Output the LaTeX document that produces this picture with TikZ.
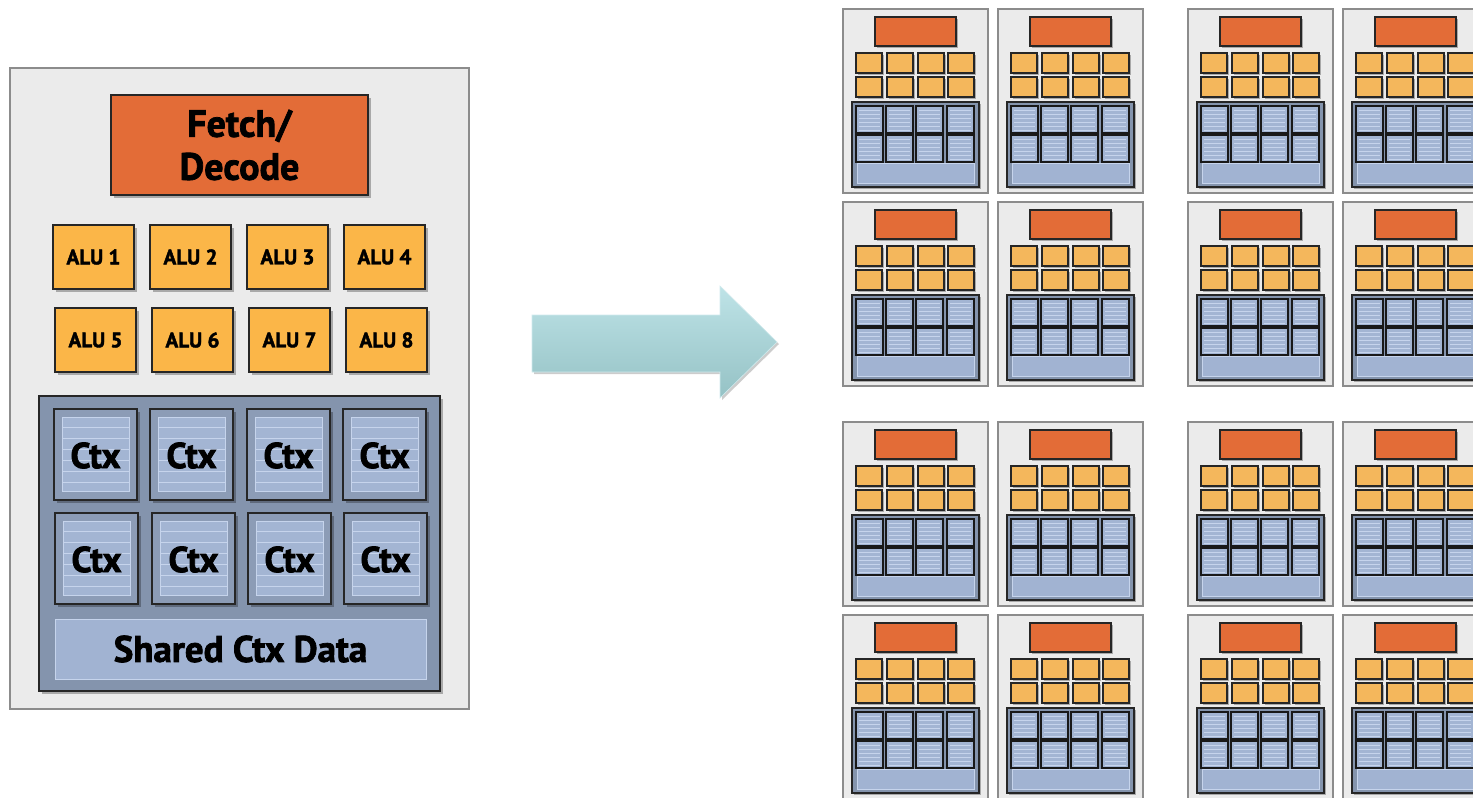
\documentclass[tikz,border=0pt]{standalone}
\usepackage{fontspec}
\setmainfont{PT Sans}[BoldFeatures={FakeBold=2}]
\usetikzlibrary{shadows}
\definecolor{bggray}{HTML}{EBEBEB}
\definecolor{coreedge}{HTML}{8C8C8C}
\definecolor{fetchor}{HTML}{E36C37}
\definecolor{alucol}{HTML}{FBB648}
\definecolor{alusm}{HTML}{F4B75C}
\definecolor{ctxbox}{HTML}{8494AD}
\definecolor{ctxcell}{HTML}{8C9CB6}
\definecolor{ctxin}{HTML}{A3B5D3}
\definecolor{ctxline}{HTML}{C6D4EC}
\definecolor{shared}{HTML}{A1B3D2}
\definecolor{arrowtop}{HTML}{BEE3E7}
\definecolor{arrowbot}{HTML}{95C2C5}
\tikzset{
  box/.style={anchor=north west, inner sep=0pt, outer sep=0pt},
  corebox/.style={box, draw=coreedge, fill=bggray, line width=1.2pt},
  bshadow/.style={drop shadow={shadow xshift=3pt, shadow yshift=-3pt, opacity=0.28, fill=black}},
  sshadow/.style={drop shadow={shadow xshift=1.6pt, shadow yshift=-1.6pt, opacity=0.28, fill=black}},
  fetchbox/.style={box, draw=black!85, fill=fetchor, line width=1.6pt, bshadow},
  alubox/.style={box, draw=black!85, fill=alucol, line width=1.6pt, bshadow, minimum width=81, minimum height=64},
  ctxarea/.style={box, draw=black!85, fill=ctxbox, line width=1.6pt, bshadow},
  ctxcellbox/.style={box, draw=black!85, fill=ctxcell, line width=1.6pt, bshadow, minimum width=83, minimum height=91},
  sharedbox/.style={box, draw=ctxline, fill=shared, line width=1pt},
  sfetch/.style={box, draw=black!85, fill=fetchor, line width=1.3pt, sshadow, minimum width=81, minimum height=29},
  salu/.style={box, draw=black!85, fill=alusm, line width=1.3pt, sshadow, minimum width=26, minimum height=20},
  sctxarea/.style={box, draw=black!85, fill=ctxbox, line width=1.4pt, sshadow, minimum width=127, minimum height=85},
  sctxcell/.style={box, draw=black!90, fill=ctxin, line width=1.6pt, minimum width=27, minimum height=27},
  sshared/.style={box, draw=ctxline, fill=shared, line width=0.8pt, minimum width=117, minimum height=20},
  labeltext/.style={font=\bfseries, text=black}
}
\newcommand\bigctx[3]{% name, x, y
  \node[ctxcellbox] (#1) at (#2,#3) {};
  \begin{scope}[shift={(#2,#3)}]
    \fill[ctxin] (8,8) rectangle (75,82);
    \foreach \k in {18,29,40,51,62,73} {\draw[ctxline, line width=1pt] (8,\k) -- (75,\k);}
    \draw[ctxline, line width=1pt] (8,8) rectangle (75,82);
  \end{scope}
  \node[labeltext, font=\fontsize{36}{40}\bfseries\selectfont] at ([yshift=-1pt]#1.center) {Ctx};
}
\newcommand\smallcore[3]{% name, x, y
  \begin{scope}[shift={(#2,#3)}]
    \node[corebox, minimum width=145, minimum height=184] (#1) at (0,0) {};
    \node[sfetch] (#1-f) at (32,8) {};
    \foreach \i/\xx in {1/13,2/44,3/75,4/105} {
      \node[salu] (#1-a\i) at (\xx,44) {};
      \node[salu] (#1-b\i) at (\xx,68) {};
    }
    \node[sctxarea] (#1-c) at (9,93) {};
    \foreach \i/\xx in {1/13,2/43,3/73,4/104} {
      \foreach \j/\yy in {1/97,2/126} {
        \node[sctxcell] (#1-c\i\j) at (\xx,\yy) {};
        \foreach \k in {4,8,12,16,20,24} {\draw[ctxline, line width=0.6pt] (\xx+3,\yy+\k) -- (\xx+24,\yy+\k);}
      }
    }
    \node[sshared] (#1-s) at (14,154) {};
  \end{scope}
}
\begin{document}
\begin{tikzpicture}[x=1pt,y=-1pt]
\useasboundingbox (0,0) rectangle (1473,798);
\clip (0,0) rectangle (1473,798);
\fill[white] (0,0) rectangle (1473,798);
% ---- big core ----
\node[corebox, minimum width=459, minimum height=641] (core) at (10,68) {};
\node[fetchbox, minimum width=257, minimum height=100, align=center,
      font=\fontsize{38}{43}\bfseries\selectfont] (fetch) at (111,95) {Fetch/\\Decode};
\foreach \i/\xx in {1/53,2/150,3/247,4/344} {
  \node[alubox, font=\fontsize{21}{24}\bfseries\selectfont] (alu\i) at (\xx,225) {ALU \i};
}
\foreach \i/\xx in {5/55,6/152,7/249,8/346} {
  \node[alubox, font=\fontsize{21}{24}\bfseries\selectfont] (alu\i) at (\xx,308) {ALU \i};
}
\node[ctxarea, minimum width=401, minimum height=295] (ctxarea) at (39,396) {};
\bigctx{ctx1}{54}{409}
\bigctx{ctx2}{150}{409}
\bigctx{ctx3}{247}{409}
\bigctx{ctx4}{343}{409}
\bigctx{ctx5}{55}{513}
\bigctx{ctx6}{152}{513}
\bigctx{ctx7}{248}{513}
\bigctx{ctx8}{344}{513}
\node[sharedbox, minimum width=371, minimum height=60,
      font=\fontsize{37}{40}\bfseries\selectfont] (shared) at (55,619) {Shared Ctx Data};
% ---- arrow ----
\path[top color=arrowtop, bottom color=arrowbot, draw=arrowtop!70!white, line width=0.6pt,
      drop shadow={shadow xshift=2pt, shadow yshift=-2pt, opacity=0.2, fill=black}]
  (532,315) -- (720,315) -- (720,286) -- (777,342) -- (720,398) -- (720,372) -- (532,372) -- cycle;
% ---- many cores ----
\smallcore{k11}{843}{9}
\smallcore{k12}{998}{9}
\smallcore{k13}{1188}{9}
\smallcore{k14}{1343}{9}
\smallcore{k21}{843}{202}
\smallcore{k22}{998}{202}
\smallcore{k23}{1188}{202}
\smallcore{k24}{1343}{202}
\smallcore{k31}{843}{422}
\smallcore{k32}{998}{422}
\smallcore{k33}{1188}{422}
\smallcore{k34}{1343}{422}
\smallcore{k41}{843}{615}
\smallcore{k42}{998}{615}
\smallcore{k43}{1188}{615}
\smallcore{k44}{1343}{615}
\end{tikzpicture}
\end{document}
